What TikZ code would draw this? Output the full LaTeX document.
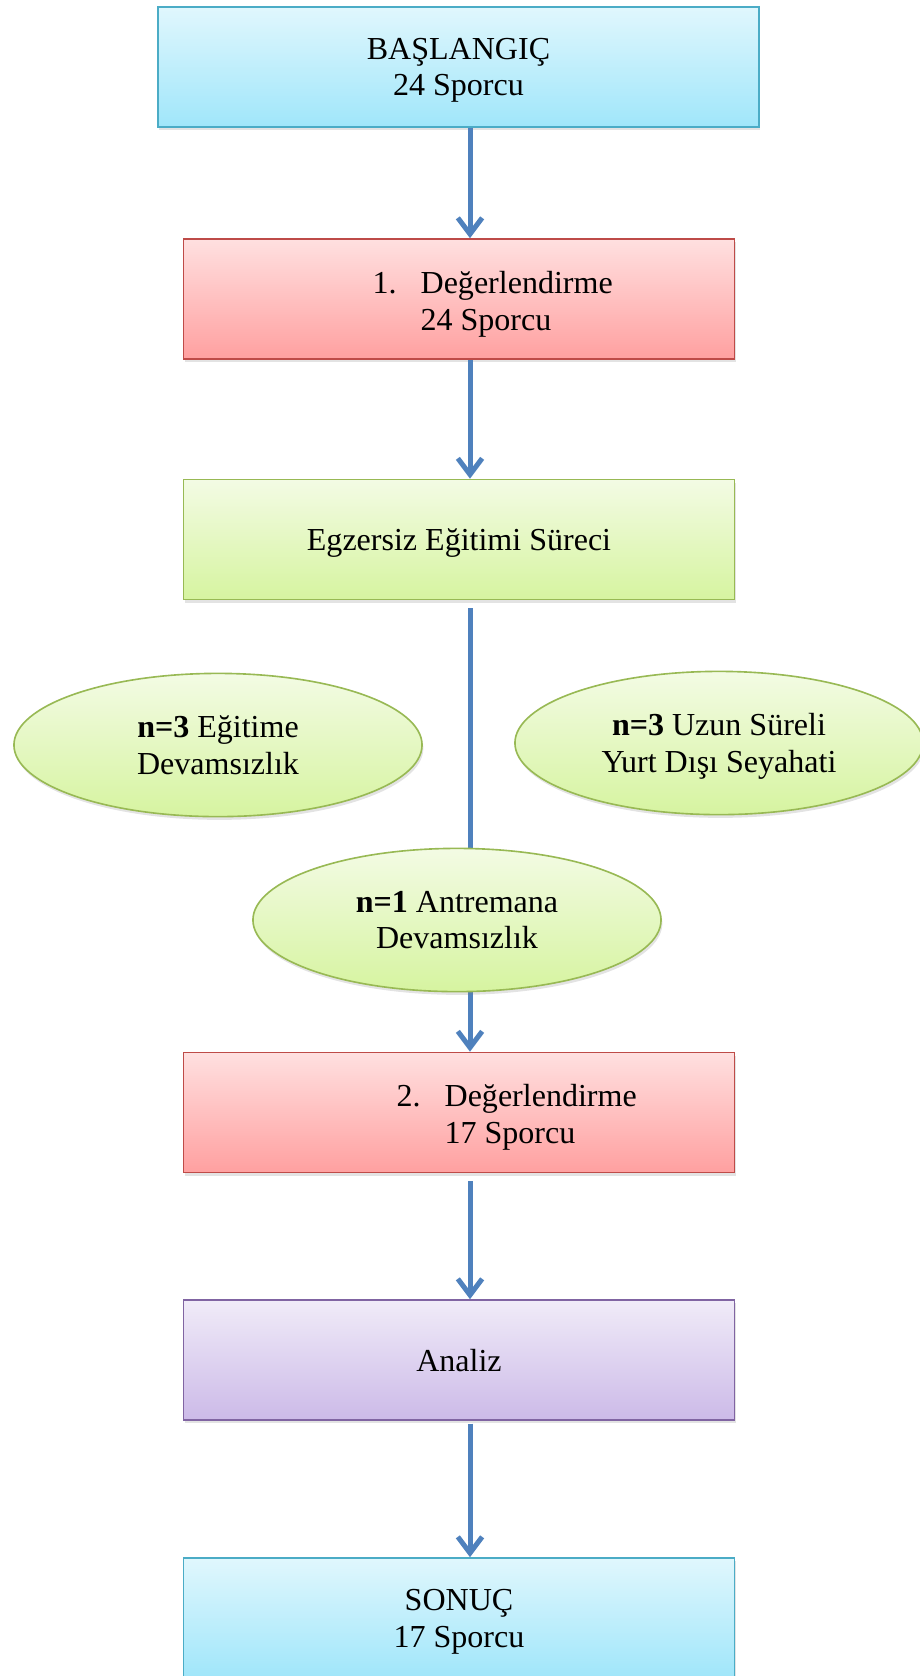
\documentclass[tikz,border=0pt]{standalone}
\usepackage{fontspec}
\setmainfont{Liberation Serif}
\usepackage{xcolor}
\usetikzlibrary{
	arrows.meta,
	shapes.geometric,
	shadows,
	positioning
}
\definecolor{SkyTop}{RGB}{224,247,253}
\definecolor{SkyBot}{RGB}{160,230,250}
\definecolor{SkyLine}{RGB}{75,172,198}
\definecolor{RoseTop}{RGB}{255,224,224}
\definecolor{RoseBot}{RGB}{255,160,160}
\definecolor{RoseLine}{RGB}{190,75,72}
\definecolor{LeafTop}{RGB}{243,251,228}
\definecolor{LeafBot}{RGB}{214,244,160}
\definecolor{LeafLine}{RGB}{152,185,84}
\definecolor{LilacTop}{RGB}{240,235,248}
\definecolor{LilacBot}{RGB}{204,186,232}
\definecolor{LilacLine}{RGB}{128,100,162}
\definecolor{Steel}{RGB}{79,129,189}

\begin{document}
\begin{tikzpicture}[x=0.37pt, y=-0.37pt,
		every node/.style={font=\fontsize{11.85}{13.6}\selectfont},
		softshadow/.style={drop shadow={opacity=0.22, shadow xshift=0.5pt, shadow yshift=-1.2pt}},
		box/.style={draw, line width=0.6pt, minimum width=204pt, minimum height=44.4pt, inner sep=0pt, align=center, text depth=0pt, softshadow},
		sky/.style={box, draw=SkyLine, top color=SkyTop, bottom color=SkyBot},
		rose/.style={box, draw=RoseLine, top color=RoseTop, bottom color=RoseBot},
		leaf/.style={box, draw=LeafLine, top color=LeafTop, bottom color=LeafBot},
		lilac/.style={box, draw=LilacLine, top color=LilacTop, bottom color=LilacBot},
		oval/.style={ellipse, draw=LeafLine, line width=0.6pt, top color=LeafTop, bottom color=LeafBot, minimum width=151pt, minimum height=53pt, inner sep=0pt, align=center, text depth=0pt, softshadow},
		flow/.style={draw=Steel, line width=1.85pt, -{Straight Barb[length=6pt, width=9pt]}}]
		\useasboundingbox (0,0) rectangle (920,1676);
		\clip (0,0) rectangle (920,1676);
		\coordinate (axis) at (470,0);
		% kutular
		\node[sky, minimum width=222.4pt, minimum height=44.2pt] (S) at (458.5,67) {BAŞLANGIÇ\\24 Sporcu};
		\node[rose] (D1) at (459,299) {};
		\node[leaf] (E) at (459,539.5) {Egzersiz Eğitimi Süreci};
		\node[rose] (D2) at (459,1112.5) {};
		\node[lilac] (An) at (459,1360) {Analiz};
		\node[sky] (R) at (459,1618) {SONUÇ\\17 Sporcu};
		\node[anchor=west, align=left] (T1) at (363,304) {\makebox[17.8pt][l]{1.}Değerlendirme\\\hspace*{17.8pt}24 Sporcu};
		\node[anchor=west, align=left] (T2) at (387,1117) {\makebox[17.8pt][l]{2.}Değerlendirme\\\hspace*{17.8pt}17 Sporcu};
		% oklar
		\foreach \a/\b/\s in {S/D1/0pt, D1/E/0pt, E/D2/3pt, D2/An/3pt, An/R/1pt}
		\draw[flow, shorten <=\s] (\a.south -| axis) -- (\b.north -| axis);
		% ayrilanlar
		\node[oval] (X1) at (218,745) {\textbf{n=3} Eğitime\\Devamsızlık};
		\node[oval] (X2) at (719,743) {\textbf{n=3} Uzun Süreli\\Yurt Dışı Seyahati};
		\node[oval] (X3) at (457,920) {\textbf{n=1} Antremana\\Devamsızlık};
	\end{tikzpicture}
\end{document}
